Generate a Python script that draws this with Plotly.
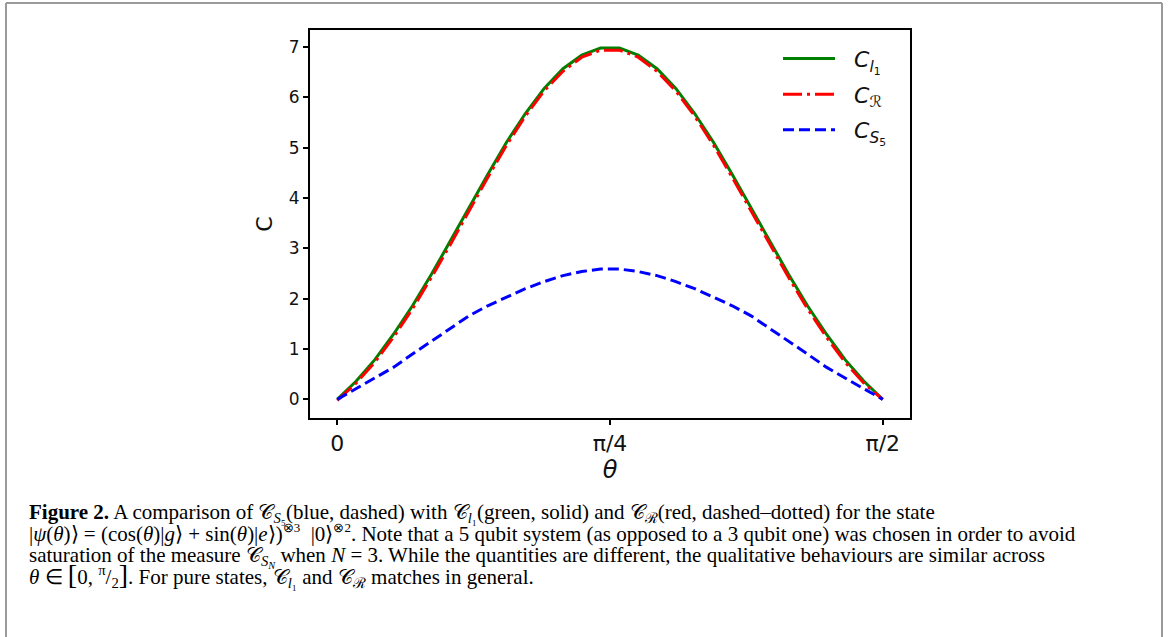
import numpy as np
import plotly.graph_objects as go

# --------------------------------------------------------------
# Data
# --------------------------------------------------------------
theta = np.linspace(0, np.pi / 2, 30)

c_l1 = [0.00, 0.36, 0.79, 1.30, 1.86, 2.48, 3.14, 3.81, 4.47, 5.11, 5.68, 6.18, 6.57, 6.84, 6.98,
        6.98, 6.84, 6.57, 6.18, 5.68, 5.11, 4.47, 3.81, 3.14, 2.48, 1.86, 1.30, 0.79, 0.36, 0.00]
c_r = [-0.02, 0.32, 0.74, 1.24, 1.80, 2.42, 3.07, 3.75, 4.41, 5.05, 5.63, 6.13, 6.52, 6.80, 6.94,
       6.94, 6.80, 6.52, 6.13, 5.63, 5.05, 4.41, 3.75, 3.07, 2.42, 1.80, 1.24, 0.74, 0.32, 0.00]
c_s5 = [0.00, 0.21, 0.42, 0.64, 0.90, 1.15, 1.41, 1.66, 1.86, 2.03, 2.20, 2.34, 2.46, 2.54, 2.59,
        2.59, 2.54, 2.46, 2.34, 2.20, 2.03, 1.86, 1.66, 1.41, 1.15, 0.90, 0.64, 0.42, 0.21, 0.00]

x_tick_vals = [0, np.pi / 4, np.pi / 2]
x_tick_text = ["0", "π/4", "π/2"]
y_tick_vals = [0, 1, 2, 3, 4, 5, 6, 7]

small = "<span style='font-size:13px'>{}</span>"
caption_lines = [
    "<b>Figure 2.</b> A comparison of 𝒞<sub><i>S</i>₅</sub>(blue, dashed) with "
    "𝒞<sub><i>l</i>₁</sub>(green, solid) and 𝒞<sub>ℛ</sub>(red, dashed–dotted) for the state",
    "|<i>ψ</i>(<i>θ</i>)⟩ = (cos(<i>θ</i>)|<i>g</i>⟩ + sin(<i>θ</i>)|<i>e</i>⟩)<sup>" + small.format("⊗3")
    + "</sup>  |0⟩<sup>" + small.format("⊗2") + "</sup>. "
    "Note that a 5 qubit system (as opposed to a 3 qubit one) was chosen in order to avoid",
    "saturation of the measure 𝒞<sub><i>S</i><sub><i>N</i></sub></sub> when <i>N</i> = 3. "
    "While the quantities are different, the qualitative behaviours are similar across",
    "<i>θ</i> ∈ <span style='font-size:28px'>[</span>0, <sup>π</sup>/<sub>2</sub>"
    "<span style='font-size:28px'>]</span>. For pure states, 𝒞<sub><i>l</i>₁</sub> "
    "and 𝒞<sub>ℛ</sub> matches in general.",
]
caption_y = [513, 533, 557, 575]

# --------------------------------------------------------------
# Figure
# --------------------------------------------------------------
fig = go.Figure()

fig.add_trace(go.Scatter(x=theta, y=c_l1, mode="lines", legendgroup="a",
                         name="&nbsp;&nbsp;<i>C</i><sub><i>l</i><sub>1</sub></sub>",
                         line=dict(color="green", width=3)))
fig.add_trace(go.Scatter(x=theta, y=c_r, mode="lines", legendgroup="b",
                         name="&nbsp;&nbsp;<i>C</i><sub>ℛ</sub>",
                         line=dict(color="red", width=3, dash="19px,5px,3px,5px")))
fig.add_trace(go.Scatter(x=theta, y=c_s5, mode="lines", legendgroup="c",
                         name="&nbsp;&nbsp;<i>C</i><sub><i>S</i><sub>5</sub></sub>",
                         line=dict(color="blue", width=3, dash="11px,5px")))

axis_style = dict(showline=True, linecolor="black", linewidth=2, mirror=True,
                  ticks="outside", ticklen=5, tickwidth=1.5, tickcolor="black",
                  showgrid=False, zeroline=False)

fig.update_xaxes(range=[-0.0785, 1.6493], tickvals=x_tick_vals, ticktext=x_tick_text,
                 tickfont=dict(family="DejaVu Sans", size=22, color="#111"),
                 title=dict(text="<i>θ</i>", font=dict(family="DejaVu Sans", size=24, color="#111"),
                            standoff=2),
                 **axis_style)
fig.update_yaxes(range=[-0.37, 7.34], tickvals=y_tick_vals,
                 tickfont=dict(family="DejaVu Sans", size=17, color="#111"),
                 title=dict(text="C", font=dict(family="DejaVu Sans", size=22, color="#111"),
                            standoff=10),
                 **axis_style)

for line, yp in zip(caption_lines, caption_y):
    fig.add_annotation(text=line, xref="paper", yref="paper",
                       x=(27 - 310) / 600, y=(418 - yp) / 388,
                       xanchor="left", yanchor="middle", showarrow=False, align="left",
                       font=dict(family="Liberation Serif", size=21, color="black"))

# grey frame around the figure + caption
frame = dict(type="line", xref="paper", yref="paper", line=dict(color="#9a9a9a", width=2))
fig.add_shape(x0=-0.5067, x1=1.42, y0=1.0696, y1=1.0696, **frame)
fig.add_shape(x0=-0.5067, x1=-0.5067, y0=1.0696, y1=-0.6, **frame)
fig.add_shape(x0=1.42, x1=1.42, y0=1.0696, y1=-0.6, **frame)

fig.update_layout(
    width=1168, height=637,
    paper_bgcolor="white", plot_bgcolor="white",
    margin=dict(l=310, r=258, t=30, b=219),
    showlegend=True,
    legend=dict(x=0.78, y=0.98, xanchor="left", yanchor="top",
                bgcolor="rgba(0,0,0,0)", itemwidth=52,
                font=dict(family="DejaVu Sans", size=22, color="#111"),
                tracegroupgap=4),
)

# drop the browser's default 8px body margin so the page lines up with the window
fig.write_html("out.html", config={"displayModeBar": False},
               post_script="document.body.style.margin='0';")
